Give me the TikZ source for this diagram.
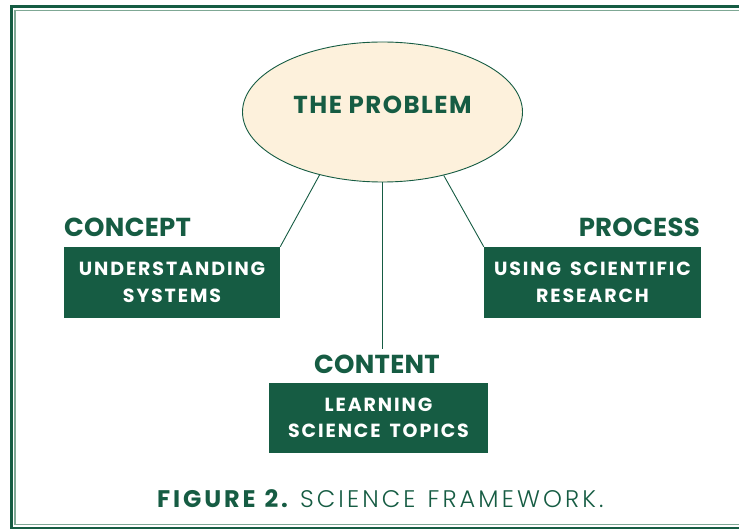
\documentclass[tikz,border=0pt]{standalone}
\usepackage{fontspec}
\setmainfont{Poppins}
\newfontfamily\capfont{Poppins Light}
\usetikzlibrary{shapes.geometric}
\definecolor{dkgreen}{HTML}{165C43}
\definecolor{ltgreen}{HTML}{7FA895}
\definecolor{cream}{HTML}{FDF1DC}
\tikzset{
  problem/.style={ellipse, draw=dkgreen, line width=0.9pt, fill=cream,
    minimum width=280pt, minimum height=140pt, inner sep=0pt,
    text=dkgreen, font=\fontsize{24.5}{24.5}\selectfont\bfseries\addfontfeature{LetterSpace=6}},
  greenbox/.style={rectangle, fill=dkgreen, text=white, align=center,
    inner sep=0pt, font=\fontsize{19}{26.5}\selectfont\bfseries\addfontfeature{LetterSpace=10}},
  heading/.style={text=dkgreen, inner sep=0pt,
    font=\fontsize{26}{26}\selectfont\bfseries\addfontfeature{LetterSpace=1}},
  link/.style={draw=dkgreen, line width=0.9pt},
}
\begin{document}
\begin{tikzpicture}[x=1pt,y=-1pt]
\useasboundingbox (0,0) rectangle (739,529);
% frame
\draw[dkgreen, line width=3pt] (11,7) rectangle (760,528);
\draw[ltgreen, line width=1.5pt] (14.75,10.75) rectangle (756,524.5);
% ellipse
\node[problem, text depth=14pt] (prob) at (382.5,112) {THE PROBLEM};
% boxes
\node[greenbox, minimum width=216pt, minimum height=71pt] (concept) at (172,282.5) {UNDERSTANDING\\SYSTEMS};
\node[greenbox, minimum width=217pt, minimum height=71pt] (process) at (592.5,282.5) {USING\hspace{9pt}SCIENTIFIC\\RESEARCH};
\node[greenbox, minimum width=219pt, minimum height=70pt] (content) at (378.5,418) {LEARNING\\SCIENCE\hspace{9pt}TOPICS};
% headings
\node[heading, anchor=base west] (conceptlbl) at (64,237) {CONCEPT};
\node[heading, anchor=base east] (processlbl) at (700,237) {PROCESS};
\node[heading, anchor=base, outer sep=5pt] (contentlbl) at (377,373) {CONTENT};
% connectors
\draw[link] (prob.225) -- (concept.north east);
\draw[link] (prob.314) -- (process.north west);
\draw[link] (prob.south) -- (prob.south |- contentlbl.north);
% caption
\node[anchor=base west, inner sep=0pt, text=dkgreen] (caption) at (157,507)
  {\fontsize{24}{24}\selectfont\bfseries\addfontfeature{LetterSpace=12}FIGURE\hspace{9pt}2.\hspace{12pt}\capfont\mdseries\addfontfeature{LetterSpace=13}SCIENCE\hspace{12pt}FRAMEWORK.};
\end{tikzpicture}
\end{document}
